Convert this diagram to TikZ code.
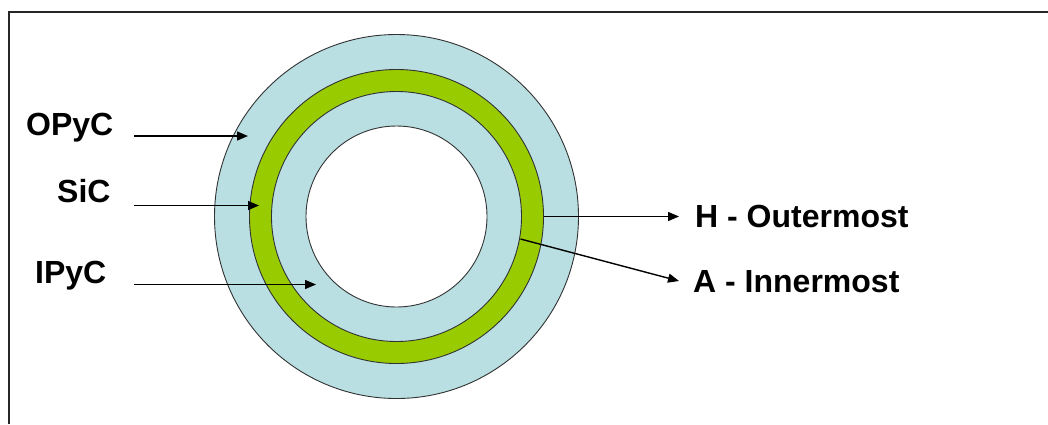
\documentclass[tikz,border=0pt]{standalone}
\usepackage{fontspec}
\setmainfont{Liberation Sans}
\usetikzlibrary{arrows.meta}
\definecolor{ringblue}{HTML}{B9DFE3}
\definecolor{ringgreen}{HTML}{99CC00}
\definecolor{edge}{HTML}{333333}
\tikzset{
  ring/.style={draw=edge, line width=0.9pt},
  lbl/.style={inner sep=0pt, anchor=base west, font=\fontsize{32}{38}\selectfont\bfseries},
  arr/.style={line width=1.4pt, -{Triangle[length=11pt,width=9pt]}}
}
\begin{document}
\begin{tikzpicture}[x=1pt,y=-1pt]
\useasboundingbox (0,0) rectangle (1048,424);
\fill[white] (0,0) rectangle (1048,424);
% frame
\draw[line width=2pt, draw=black!85] (8.5,424) -- (8.5,11.5) -- (1048,11.5);
% rings
\coordinate (c) at (396.5,216.5);
\draw[ring, fill=ringblue] (c) circle[radius=182];
\draw[ring, fill=ringgreen] (c) circle[radius=147];
\draw[ring, fill=ringblue] (c) circle[radius=125];
\draw[ring, fill=white] (c) circle[radius=90.5];
% labels
\node[lbl] (opyc) at (26,135) {OPyC};
\node[lbl] (sic) at (57,202) {SiC};
\node[lbl] (ipyc) at (35,283) {IPyC};
\node[lbl] (hout) at (695,227) {H - Outermost};
\node[lbl] (ainn) at (693,292) {A - Innermost};
% arrow coordinates
\coordinate (o1) at (134,136);
\coordinate (o2) at (248,136);
\coordinate (s1) at (134,205.5);
\coordinate (s2) at (259,205.5);
\coordinate (i1) at (134,284.5);
\coordinate (i2) at (316,284.5);
\coordinate (h1) at (543.5,216.5);
\coordinate (h2) at (679,216.5);
\coordinate (a1) at (520.5,239);
\coordinate (a2) at (679,281);
\draw[arr] (o1) -- (o2);
\draw[arr] (s1) -- (s2);
\draw[arr] (i1) -- (i2);
\draw[arr] (h1) -- (h2);
\draw[arr] (a1) -- (a2);
\end{tikzpicture}
\end{document}
